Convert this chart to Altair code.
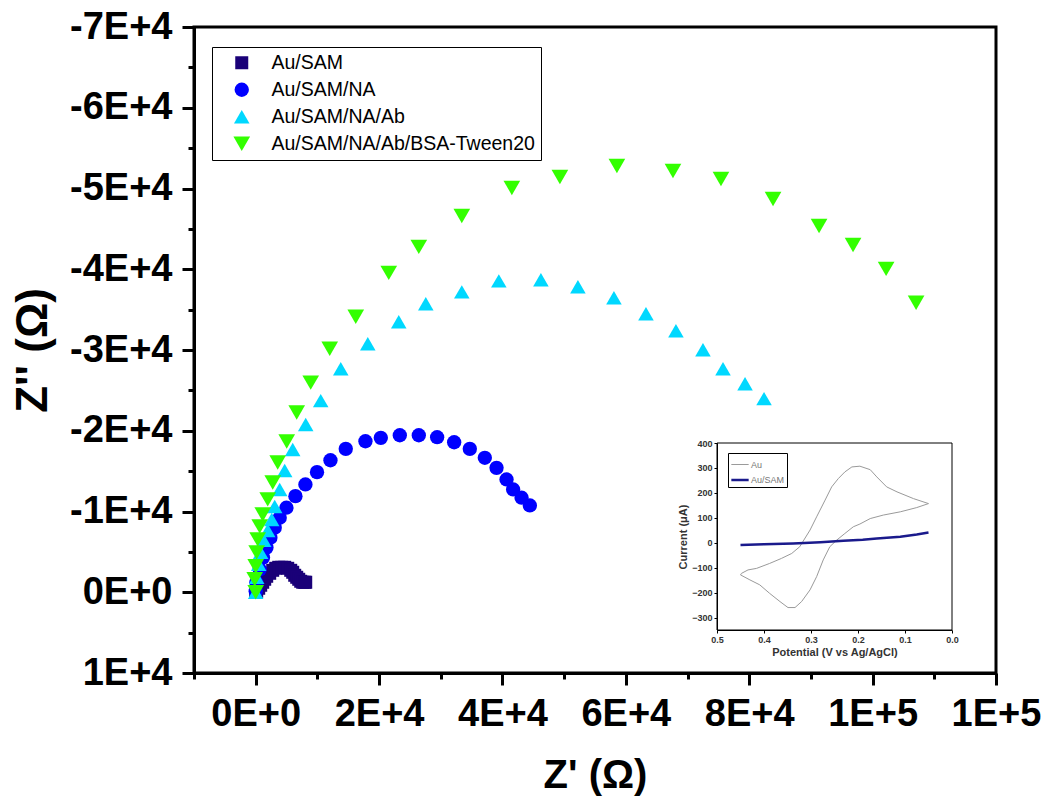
import altair as alt
import pandas as pd

# ---------------- main Nyquist data ----------------
series_names = ["Au/SAM", "Au/SAM/NA", "Au/SAM/NA/Ab", "Au/SAM/NA/Ab/BSA-Tween20"]
series_colors = ["#1a0078", "#0000ff", "#00d8ff", "#33ff00"]
series_shapes = ["square", "circle", "triangle-up", "triangle-down"]
series_sizes = [169, 278, 330, 330]

sam_zr = [0, 162, 487, 811, 1135, 1460, 1784, 2271, 2757, 3244, 3730, 4217, 4703, 5190,
          5676, 6001, 6325, 6650, 6974, 7298, 7623, 7947, 8110]
sam_zi = [0, -124, -494, -865, -1236, -1607, -1978, -2348, -2719, -2966, -3090, -3090,
          -3090, -2966, -2719, -2472, -2101, -1854, -1607, -1360, -1236, -1236, -1236]

na_zr = [0, 110, 650, 1180, 1740, 2380, 3080, 3890, 4980, 6440, 8060, 9940, 12120, 14600,
         17790, 20280, 23360, 26440, 29410, 32170, 34710, 37140, 39040, 40660, 41730, 43100, 44440]
na_zi = [-120, -1200, -2840, -4290, -5530, -6760, -8000, -9230, -10470, -11900, -13350,
         -14870, -16350, -17760, -18700, -19120, -19440, -19440, -19200, -18580, -17760,
         -16650, -15410, -13970, -12730, -11710, -10750]

ab_zr = [0, 160, 490, 810, 1300, 1950, 2600, 3080, 3890, 4700, 6000, 8110, 10540, 13790,
         18170, 23190, 27570, 33410, 39410, 46230, 52230, 58070, 63260, 68120, 72500, 75750,
         79320, 82400]
ab_zi = [0, -1850, -3460, -4940, -6430, -7660, -9020, -10630, -12730, -15080, -17680,
         -20770, -23730, -27690, -30780, -33500, -35720, -37200, -38560, -38690, -37820,
         -36460, -34490, -32380, -30040, -27690, -25830, -23980]

bsa_zr = [0, -160, 0, 160, 320, 650, 1140, 1950, 2760, 3570, 5030, 6650, 8920, 12000, 16220,
          21570, 26440, 33410, 41520, 49310, 58550, 67640, 75420, 83860, 91320, 96830,
          102190, 107050]
bsa_zi = [0, -1610, -3210, -4940, -6550, -8160, -9640, -11500, -13600, -16070, -18660,
          -22250, -25960, -30160, -34110, -39550, -42770, -46600, -50060, -51420, -52780,
          -52160, -51170, -48700, -45360, -43010, -40050, -35850]

x_domain = [-10000, 120000]
y_domain = [-70000, 10000]
x_tick_values = [0, 20000, 40000, 60000, 80000, 100000, 120000]
x_tick_labels = ["0E+0", "2E+4", "4E+4", "6E+4", "8E+4", "1E+5", "1E+5"]
x_minor_values = [-10000, 10000, 30000, 50000, 70000, 90000, 110000]
y_tick_values = [10000, 0, -10000, -20000, -30000, -40000, -50000, -60000, -70000]
y_tick_labels = ["1E+4", "0E+0", "-1E+4", "-2E+4", "-3E+4", "-4E+4", "-5E+4", "-6E+4", "-7E+4"]
y_minor_values = [5000, -5000, -15000, -25000, -35000, -45000, -55000, -65000]

# ---------------- inset CV data ----------------
cv_series = ["Au", "Au/SAM"]
cv_colors = ["#9a9a9a", "#1a1a8c"]
cv_widths = [1, 2.5]
au_E = [0.05, 0.082, 0.117, 0.139, 0.16, 0.174, 0.196, 0.213, 0.228, 0.242, 0.256, 0.27,
        0.288, 0.302, 0.324, 0.341, 0.363, 0.388, 0.416, 0.434, 0.448, 0.45,
        0.43, 0.409, 0.388, 0.366, 0.349, 0.334, 0.32, 0.302, 0.288, 0.274, 0.26, 0.245,
        0.228, 0.21, 0.196, 0.174, 0.146, 0.11, 0.075, 0.05]
au_I = [157, 177, 204, 224, 264, 293, 307, 304, 284, 257, 224, 171, 104, 51, -16, -43, -63,
        -83, -103, -109, -123, -129,
        -149, -169, -203, -236, -260, -260, -236, -189, -136, -69, -16, 11, 37, 64, 75, 97,
        111, 124, 141, 157]
ausam_E = [0.45, 0.4, 0.338, 0.28, 0.231, 0.19, 0.16, 0.11, 0.075, 0.05]
ausam_I = [-9, -6, -3, 2, 8, 12, 17, 24, 33, 41]

inset_x_domain = [0.0, 0.5]
inset_y_domain = [-350, 400]
inset_x_ticks = [0.5, 0.4, 0.3, 0.2, 0.1, 0.0]
inset_y_ticks = [-300, -200, -100, 0, 100, 200, 300, 400]

# ---------------- tables ----------------
rows = []
idx = 0
for name, zr, zi in zip(series_names, [sam_zr, na_zr, ab_zr, bsa_zr], [sam_zi, na_zi, ab_zi, bsa_zi]):
    for a, b in zip(zr, zi):
        rows.append({"series": name, "zr": a, "zi": b, "idx": idx})
        idx += 1
df = pd.DataFrame(rows)

cv_rows = []
k = 0
for name, E, I in zip(cv_series, [au_E, ausam_E], [au_I, ausam_I]):
    for e, i in zip(E, I):
        cv_rows.append({"curve": name, "E": e, "I": i, "idx": k})
        k += 1
cv_df = pd.DataFrame(cv_rows)
frame_df = pd.DataFrame({"x0": [inset_x_domain[1]], "x1": [inset_x_domain[0]],
                         "y0": [inset_y_domain[0]], "y1": [inset_y_domain[1]]})


def label_expr(values, labels):
    expr = "''"
    for v, l in reversed(list(zip(values, labels))):
        expr = f"datum.value == {v} ? '{l}' : ({expr})"
    return expr


FONT = "Liberation Sans"
x_scale = alt.Scale(domain=x_domain, nice=False, zero=False)
y_scale = alt.Scale(domain=y_domain, nice=False, zero=False, reverse=True)

leg = alt.Legend(title=None, orient="none", legendX=18, legendY=20, fillColor="white",
                 strokeColor="black", padding=6, symbolOffset=14, symbolSize=260,
                 symbolStrokeWidth=0, labelFont=FONT, labelFontSize=19.5, labelColor="black",
                 labelOffset=20, rowPadding=6, labelLimit=500)

main = alt.Chart(df).mark_point(filled=True, opacity=1, strokeWidth=0).encode(
    x=alt.X("zr:Q", scale=x_scale,
            axis=alt.Axis(orient="bottom", values=x_tick_values,
                          labelExpr=label_expr(x_tick_values, x_tick_labels),
                          title="Z' (Ω)", titleFont=FONT, titleFontSize=40, titleFontWeight="bold",
                          titleColor="black", titlePadding=22,
                          labelFont=FONT, labelFontSize=38, labelFontWeight="bold",
                          labelColor="black", labelPadding=10, labelFlush=False,
                          labelOverlap=False, tickSize=12, tickWidth=3, tickColor="black",
                          domainColor="black", domainWidth=3, grid=False)),
    y=alt.Y("zi:Q", scale=y_scale,
            axis=alt.Axis(orient="left", values=y_tick_values,
                          labelExpr=label_expr(y_tick_values, y_tick_labels),
                          title="Z'' (Ω)", titleFont=FONT, titleFontSize=44, titleFontWeight="bold",
                          titleColor="black", titlePadding=14,
                          labelFont=FONT, labelFontSize=38, labelFontWeight="bold",
                          labelColor="black", labelPadding=10, labelFlush=False,
                          labelOverlap=False, tickSize=12, tickWidth=3, tickColor="black",
                          domainColor="black", domainWidth=3, grid=False)),
    color=alt.Color("series:N", scale=alt.Scale(domain=series_names, range=series_colors), legend=leg),
    shape=alt.Shape("series:N", scale=alt.Scale(domain=series_names, range=series_shapes), legend=leg),
    size=alt.Size("series:N", scale=alt.Scale(domain=series_names, range=series_sizes), legend=None),
    order=alt.Order("idx:Q"),
)

minor = alt.Chart(df).mark_point(opacity=0).encode(
    x=alt.X("zr:Q", scale=x_scale,
            axis=alt.Axis(orient="bottom", values=x_minor_values, labels=False, tickSize=6,
                          tickWidth=3, tickColor="black", domain=False, grid=False, title=None)),
    y=alt.Y("zi:Q", scale=y_scale,
            axis=alt.Axis(orient="left", values=y_minor_values, labels=False, tickSize=6,
                          tickWidth=3, tickColor="black", domain=False, grid=False, title=None)),
)

# inset (placed with its own scales inside the main plot area)
ix_scale = alt.Scale(domain=inset_x_domain, range=[758, 523], nice=False, zero=False)
iy_scale = alt.Scale(domain=inset_y_domain, range=[603, 416], nice=False, zero=False)
ix_axis = alt.Axis(orient="bottom", offset=-43, values=inset_x_ticks, format=".1f",
                   title="Potential (V vs Ag/AgCl)", titleFont=FONT, titleFontSize=11,
                   titleFontWeight="bold", titleColor="#333333", titlePadding=2,
                   labelFont=FONT, labelFontSize=9, labelFontWeight="bold", labelColor="#333333",
                   labelPadding=2, labelFlush=False, labelOverlap=False, tickSize=3,
                   tickColor="black", domainColor="black", domainWidth=1, grid=False)
iy_axis = alt.Axis(orient="left", offset=-523, values=inset_y_ticks, format="d",
                   title="Current (μA)", titleFont=FONT, titleFontSize=11,
                   titleFontWeight="bold", titleColor="#333333", titlePadding=3,
                   labelFont=FONT, labelFontSize=9, labelFontWeight="bold", labelColor="#333333",
                   labelPadding=2, labelFlush=False, labelOverlap=False, tickSize=3,
                   tickColor="black", domainColor="black", domainWidth=1, grid=False)

frame = alt.Chart(frame_df).mark_rect(fill="white", fillOpacity=0, stroke="black", strokeWidth=1).encode(
    x=alt.X("x0:Q", scale=ix_scale, axis=ix_axis),
    x2="x1:Q",
    y=alt.Y("y0:Q", scale=iy_scale, axis=iy_axis),
    y2="y1:Q",
)

ileg = alt.Legend(title=None, orient="none", legendX=534, legendY=426, fillColor="white",
                  strokeColor="black", padding=2, symbolType="stroke", symbolSize=300,
                  symbolStrokeWidth=2, labelFont=FONT, labelFontSize=9, labelColor="#777777",
                  labelOffset=1, rowPadding=0)

lines = alt.Chart(cv_df).mark_line().encode(
    x=alt.X("E:Q", scale=ix_scale, axis=ix_axis),
    y=alt.Y("I:Q", scale=iy_scale, axis=iy_axis),
    color=alt.Color("curve:N", scale=alt.Scale(domain=cv_series, range=cv_colors), legend=ileg),
    strokeWidth=alt.StrokeWidth("curve:N", scale=alt.Scale(domain=cv_series, range=cv_widths), legend=None),
    order=alt.Order("idx:Q"),
)

inset = alt.layer(frame, lines)

chart = alt.layer(main, minor, inset).resolve_scale(
    x="independent", y="independent", color="independent", shape="independent",
    size="independent", strokeWidth="independent"
).properties(
    width=802, height=646,
    autosize=alt.AutoSizeParams(type="none"),
    padding={"left": 194, "top": 27, "right": 51, "bottom": 132},
).configure(font=FONT, background="white").configure_view(stroke="black", strokeWidth=3)

chart.save("out.html", embed_options={"renderer": "svg", "actions": False})
